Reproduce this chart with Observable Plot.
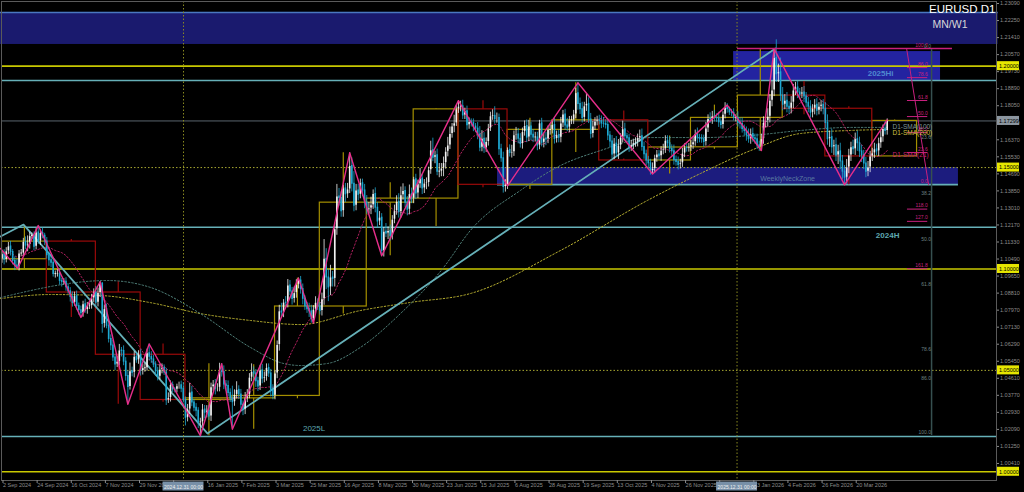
<!DOCTYPE html>
<html><head><meta charset="utf-8">
<script src="https://cdn.jsdelivr.net/npm/d3@7"></script>
<script src="https://cdn.jsdelivr.net/npm/@observablehq/plot@0.6"></script>
<style>html,body{margin:0;padding:0;background:#000;overflow:hidden}</style>
</head><body><div id="chart"></div>
<script>
// ---- daily EURUSD closes, bar index 0 = 2 Sep 2024 (weekdays) ----
const closes = [
1.1073,1.1045,1.1087,1.1111,1.1084,1.1040,1.1017,1.1010,1.1076,1.1076,1.1133,1.1115,1.1118,1.1162,1.1163,1.1110,1.1180,1.1136,1.1177,1.1164,1.1135,
1.1068,1.1043,1.1031,1.0975,1.0975,1.0978,1.0941,1.0936,1.0937,1.0910,1.0890,1.0862,1.0832,1.0866,1.0817,1.0797,1.0782,1.0826,1.0797,1.0815,1.0817,1.0855,1.0884,
1.0833,1.0881,1.0928,1.0729,1.0802,1.0720,1.0655,1.0623,1.0564,1.0529,1.0542,1.0598,1.0596,1.0543,1.0472,1.0418,1.0496,1.0488,1.0567,1.0550,1.0577,
1.0497,1.0511,1.0511,1.0585,1.0567,1.0554,1.0528,1.0495,1.0468,1.0503,1.0512,1.0490,1.0352,1.0364,1.0428,1.0406,1.0404,1.0422,1.0427,1.0410,1.0354,
1.0266,1.0307,1.0391,1.0341,1.0316,1.0301,1.0243,1.0244,1.0307,1.0291,1.0301,1.0273,1.0417,1.0430,1.0409,1.0414,1.0495,1.0492,1.0430,1.0423,1.0389,1.0362,
1.0343,1.0379,1.0404,1.0381,1.0330,1.0307,1.0361,1.0380,1.0464,1.0492,1.0484,1.0446,1.0421,1.0500,1.0459,1.0467,1.0512,1.0485,1.0399,1.0375,
1.0484,1.0625,1.0791,1.0785,1.0834,1.0833,1.0918,1.0889,1.0852,1.0881,1.0922,1.0943,1.0901,1.0853,1.0816,1.0801,1.0791,1.0753,1.0799,1.0833,1.0815,
1.0793,1.0851,1.1050,1.0958,1.0909,1.0958,1.0951,1.1196,1.1357,1.1350,1.1285,1.1397,1.1368,1.1392,1.1508,1.1420,1.1312,1.1387,1.1366,1.1423,1.1387,1.1327,
1.1290,1.1298,1.1314,1.1370,1.1302,1.1234,1.1253,1.1089,1.1184,1.1175,1.1187,1.1163,1.1243,1.1285,1.1331,1.1281,1.1364,1.1385,1.1327,1.1292,1.1369,1.1347,
1.1442,1.1372,1.1418,1.1446,1.1397,1.1421,1.1424,1.1487,1.1585,1.1549,1.1561,1.1480,1.1480,1.1495,1.1522,1.1578,1.1609,1.1665,1.1702,1.1718,1.1787,
1.1800,1.1802,1.1757,1.1778,1.1709,1.1725,1.1720,1.1702,1.1692,1.1662,1.1598,1.1642,1.1595,1.1626,1.1693,1.1753,1.1755,1.1739,1.1744,1.1590,1.1546,1.1404,1.1415,
1.1587,1.1572,1.1575,1.1660,1.1663,1.1642,1.1616,1.1675,1.1705,1.1648,1.1703,1.1662,1.1648,1.1649,1.1608,1.1718,1.1622,1.1643,1.1638,1.1685,1.1686,
1.1710,1.1641,1.1660,1.1647,1.1717,1.1762,1.1708,1.1697,1.1732,1.1733,1.1762,1.1867,1.1813,1.1787,1.1745,1.1802,1.1814,1.1737,1.1666,1.1703,1.1726,1.1733,
1.1730,1.1717,1.1716,1.1710,1.1658,1.1628,1.1564,1.1618,1.1570,1.1608,1.1647,1.1689,1.1654,1.1644,1.1600,1.1609,1.1620,1.1627,1.1645,1.1655,1.1601,1.1566,1.1535,
1.1521,1.1483,1.1493,1.1546,1.1564,1.1556,1.1583,1.1590,1.1632,1.1620,1.1592,1.1581,1.1537,1.1527,1.1513,1.1521,1.1569,1.1597,1.1596,1.1599,
1.1610,1.1625,1.1665,1.1644,1.1642,1.1640,1.1626,1.1693,1.1740,1.1738,1.1752,1.1745,1.1743,1.1723,1.1710,1.1760,1.1795,1.1788,1.1772,1.1770,1.1745,1.1745,
1.1720,1.1715,1.1690,1.1680,1.1660,1.1640,1.1665,1.1645,1.1640,1.1610,1.1600,1.1640,1.1720,1.1730,1.1750,1.1830,1.1880,1.2040,1.1960,1.1970,1.1855,
1.1810,1.1830,1.1800,1.1790,1.1820,1.1880,1.1895,1.1870,1.1860,1.1870,1.1850,1.1820,1.1800,1.1770,1.1790,1.1810,1.1780,1.1800,1.1810,1.1790,
1.1720,1.1640,1.1650,1.1600,1.1610,1.1560,1.1580,1.1530,1.1480,1.1450,1.1500,1.1560,1.1600,1.1590,1.1640,1.1620,1.1580,1.1560,1.1520,1.1480,1.1500,1.1555,
1.1570,1.1590,1.1580,1.1620,1.1650,1.1690,1.1680,1.1730];
const firstOpen = 1.1048;
// upper / lower wick lengths in pips
const wickUp = [
15,22,18,20,25,12,20,30,15,20,18,25,45,20,15,20,20,34,15,25,12,
20,15,25,20,15,18,20,12,15,20,15,18,25,20,25,15,20,15,25,20,15,20,18,
30,25,9,5,20,25,15,20,25,15,25,30,15,25,20,25,40,20,25,20,20,
25,20,25,20,45,25,20,15,20,25,20,15,20,25,20,15,10,10,15,20,30,
15,25,45,30,15,20,15,20,25,20,25,25,20,20,25,20,40,38,30,20,25,20,
60,25,40,20,25,20,30,25,20,40,25,20,20,25,30,25,20,20,20,30,
15,20,30,40,15,30,30,25,20,30,25,12,20,25,15,20,30,30,20,30,20,
20,30,95,50,40,60,30,30,60,40,30,15,25,30,65,40,60,30,30,20,20,30,
35,30,40,20,30,25,30,20,20,40,20,30,20,30,30,40,40,35,20,30,45,30,
10,25,20,50,20,20,25,15,45,60,20,30,40,25,30,20,40,35,15,40,20,
30,25,30,15,25,20,15,20,15,30,40,40,30,20,20,20,30,45,25,20,25,30,25,
10,25,35,20,35,30,25,20,25,30,30,20,25,25,25,15,25,25,30,20,25,
20,35,20,25,30,20,25,35,20,20,20,25,51,30,35,20,50,30,30,25,20,20,
25,25,30,20,25,20,30,25,35,30,20,40,30,15,20,25,20,20,20,30,35,25,20,
20,20,30,15,20,20,20,25,25,25,30,20,30,20,25,20,25,20,20,20,
25,20,20,30,20,20,20,30,20,30,25,30,20,30,20,15,25,20,10,15,20,15,
30,25,30,20,20,30,25,30,20,25,20,25,30,20,40,30,45,45,90,40,70,
40,30,40,25,30,30,25,30,20,25,30,20,25,30,20,25,30,20,20,25,
30,40,30,40,25,35,30,40,30,30,40,30,25,35,30,40,30,30,25,30,30,25,
25,30,25,25,30,20,35,10];
const wickDn = [
20,25,15,15,20,20,25,8,20,15,15,20,30,20,15,20,15,15,20,15,20,
20,30,25,15,20,15,20,25,15,20,15,25,20,15,20,25,21,20,15,20,15,15,20,
20,20,20,46,20,15,20,25,20,30,15,20,30,20,25,83,15,20,25,15,20,
25,20,20,15,20,20,15,25,20,15,20,15,25,15,20,15,15,15,15,20,15,
40,20,25,20,20,30,30,65,20,30,25,20,25,20,30,15,20,25,25,25,20,20,
133,20,20,25,20,30,25,20,20,20,25,30,25,20,25,20,20,20,30,20,
20,25,30,20,25,20,25,20,30,20,25,20,25,30,20,20,30,20,25,20,20,
20,25,30,60,70,40,40,40,30,40,30,30,40,20,20,40,30,25,30,20,30,30,
20,20,30,20,25,30,20,24,30,20,30,25,20,20,20,30,30,25,25,30,25,25,
25,30,25,20,30,25,30,20,20,20,30,20,30,25,40,30,25,20,20,30,15,
20,25,20,20,25,20,20,25,20,25,20,20,25,20,20,15,20,25,20,30,20,30,25,
23,20,25,20,25,25,20,25,20,25,20,30,25,20,25,20,20,25,30,20,25,
20,25,20,25,25,20,25,20,25,20,20,20,30,25,25,20,25,20,25,20,20,20,
20,25,20,20,25,30,20,25,20,30,20,25,20,20,25,20,20,20,25,20,20,25,25,
25,20,15,20,20,20,25,20,20,25,20,25,25,20,25,20,20,20,20,20,
20,20,20,25,20,20,25,20,20,20,25,20,20,25,20,20,20,20,15,20,15,20,
20,25,20,25,30,20,25,20,25,20,20,16,25,25,30,30,30,30,40,40,30,
30,25,30,30,25,30,25,30,25,20,30,25,30,25,25,30,25,20,25,30,
30,30,40,30,40,30,45,40,40,35,30,30,30,25,30,40,30,35,30,30,25,25,
25,25,20,25,25,25,20,20];

// ---- monthly candles (MN boxes) ----
const monthStart = [0,21,44,65,86,108,128,149,171,193,214,237,258,280,303,323,345,366,386,408];
const monthEnd   = [20,43,64,85,107,127,148,170,192,213,236,257,279,302,322,344,365,385,407,428];
const mOpen  = [1.1048,1.1135,1.0884,1.0577,1.0354,1.0362,1.0374,1.0815,1.1327,1.1347,1.1787,1.1415,1.1686,1.1733,1.1535,1.1600,1.1745,1.1855,1.1790,1.1555];
const mHigh  = [1.1214,1.1145,1.0937,1.0630,1.0533,1.0528,1.0955,1.1573,1.1425,1.1790,1.1830,1.1743,1.1918,1.1779,1.1656,1.1808,1.2085,1.1925,1.1800,1.1735];
const mLow   = [1.1002,1.0761,1.0333,1.0343,1.0178,1.0210,1.0360,1.0778,1.1065,1.1210,1.1400,1.1392,1.1574,1.1542,1.1468,1.1590,1.1580,1.1760,1.1415,1.1550];
const mClose = [1.1135,1.0884,1.0577,1.0354,1.0362,1.0374,1.0815,1.1327,1.1347,1.1787,1.1415,1.1686,1.1733,1.1535,1.1599,1.1745,1.1855,1.1790,1.1555,1.1730];

// ---- horizontal levels ----
const hLevels = [1.2000, 1.1929, 1.17299, 1.1500, 1.1206, 1.1000, 1.0500, 1.0174, 1.0000];
const hKinds  = ["round","swing","last","half","swing","round","half","swing","round"];
// ---- zones ----
const zoneNames = ["MonthlyZone","2025HiZone","WeeklyNeckZone"];
const zoneStart = [-1, 343, 232.3];
const zoneEnd   = [467, 440, 448.4];
const zoneLow   = [1.2107, 1.1929, 1.1416];
const zoneHigh  = [1.2265, 1.2072, 1.1500];
// ---- trend lines / zigzag ----
const trendIdx   = [-0.7, 10.1, 96.3, 362.6];
const trendPrice = [1.1160, 1.1219, 1.0189, 1.2087];
const zzIdx   = [-0.7,7.3,17,37,46,59,69,93,103,108,139,146,163,178,214,237,270,305,340,356,362,395,415];
const zzPrice = [1.1101,1.1002,1.1214,1.0761,1.0937,1.0333,1.0630,1.0178,1.0533,1.0210,1.0955,1.0733,1.1573,1.1065,1.1830,1.1410,1.1918,1.1468,1.1808,1.1584,1.2085,1.1415,1.1735];
// ---- moving averages ----
const s200Idx   = [-0.7,22.7,46.2,69.6,93,116.5,140,168,191.5,219.6,261.8,302.6,327.5,351,374.4,397.8,415];
const s200Price = [1.0854,1.0874,1.0869,1.0834,1.0780,1.0746,1.0726,1.0795,1.0835,1.0879,1.1091,1.1338,1.1471,1.1584,1.1668,1.1683,1.1688];
const s100Idx   = [-0.7,49.5,69.6,93,116.5,132,140,152.6,168,186.8,207,219.6,243,261.8,280.6,304,327.5,351,374.4,397.8,415];
const s100Price = [1.0859,1.0943,1.0909,1.0780,1.0613,1.0534,1.0524,1.0534,1.0613,1.0780,1.1007,1.1190,1.1387,1.1510,1.1584,1.1648,1.1648,1.1658,1.1683,1.1698,1.1698];
// ---- fibonacci ----
const fibMagLevels = [100, 86, 78.6, 61.8, 50, 38.2, 23.6, 0, 118, 127, 161.8];
const fibMagHigh = 1.2087, fibMagLow = 1.1416;
const fibGrayLevels = [0, 23.6, 38.2, 50, 61.8, 78.6, 86, 100];
const fibGrayTop = 1.2082, fibGrayBottom = 1.0179;
// ---- text ----
const labelTexts = ["2025Hi","2024H","2025L","WeeklyNeckZone"];
const labelIdx   = [411.9, 415.2, 146.3, 368.3];
const labelPrice = [1.1964, 1.1165, 1.0213, 1.1446];
const smaNames = ["D1-SMA(100)","D1-SMA(200)","D1-SMA(21)"];
const smaLabelPrice = [1.1702, 1.1672, 1.1562];
// ---- axes ----
const xTickIdx = [0,16,32,48,64,80,96,112,128,144,160,176,192,208,224,240,256,272,288,304,320,336,352,368,384,400];
const xTickLabels = ["2 Sep 2024","24 Sep 2024","16 Oct 2024","7 Nov 2024","29 Nov 2024","23 Dec 2024","16 Jan 2025","7 Feb 2025","3 Mar 2025","25 Mar 2025","16 Apr 2025","8 May 2025","30 May 2025","23 Jun 2025","15 Jul 2025","6 Aug 2025","28 Aug 2025","19 Sep 2025","13 Oct 2025","4 Nov 2025","26 Nov 2025","18 Dec 2025","13 Jan 2026","4 Feb 2026","26 Feb 2026","20 Mar 2026"];
const yTicks = [1.2309,1.2225,1.2141,1.2057,1.1973,1.1889,1.1805,1.1721,1.1637,1.1553,1.1469,1.1385,1.1301,1.1217,1.1133,1.1049,1.0965,1.0881,1.0797,1.0713,1.0629,1.0545,1.0461,1.0377,1.0293,1.0209,1.0125,1.0041];
const tagPrice = [1.2000, 1.17299, 1.1500, 1.1000, 1.0500, 1.0000];
const tagKind  = ["round","last","round","round","round","round"];
const sepIdx = [85.1, 344.6];
const sepLabel = ["2024.12.31 00:00","2025.12.31 00:00"];

// ---------- build tables ----------
const candles = closes.map((c, i) => {
  const o = i === 0 ? firstOpen : closes[i - 1];
  return {i, o, c, h: Math.max(o, c) + wickUp[i] / 1e4, l: Math.min(o, c) - wickDn[i] / 1e4, up: c >= o};
});
const months = monthStart.map((s, k) => ({s, e: monthEnd[k], o: mOpen[k], h: mHigh[k], l: mLow[k], c: mClose[k], up: mClose[k] >= mOpen[k]}));
const levels = hLevels.map((p, k) => ({p, kind: hKinds[k]}));
const zones = zoneNames.map((n, k) => ({n, a: zoneStart[k], b: zoneEnd[k], lo: zoneLow[k], hi: zoneHigh[k]}));
const trend = trendIdx.map((x, k) => ({x, y: trendPrice[k]}));
const zz = zzIdx.map((x, k) => ({x, y: zzPrice[k]}));
const sma200 = s200Idx.map((x, k) => ({x, y: s200Price[k]}));
const sma100 = s100Idx.map((x, k) => ({x, y: s100Price[k]}));
const fr = fibMagHigh - fibMagLow;
const fibMag = fibMagLevels.map(lv => ({lv, p: lv <= 100 ? fibMagLow + lv / 100 * fr : fibMagLow - (lv - 100) / 100 * fr}));
const fibGray = fibGrayLevels.map(lv => ({lv, p: fibGrayTop - lv / 100 * (fibGrayTop - fibGrayBottom)}));
const labels = labelTexts.map((t, k) => ({t, x: labelIdx[k], y: labelPrice[k]}));
const smaLabels = smaNames.map((t, k) => ({t, y: smaLabelPrice[k]}));
const tags = tagPrice.map((p, k) => ({p, kind: tagKind[k], t: p.toFixed(5)}));
const seps = sepIdx.map((i, k) => ({i, t: sepLabel[k]}));
// tick labels hidden behind the separator date tags are not drawn
const hiddenTicks = new Set(xTickIdx.filter(t => sepIdx.some(s => t < s && s - t < 10)));

const xMin = -0.234, xMax = 466.24, yMin = 0.99570, yMax = 1.23189;
const BULL = "#f2f2f2", BEAR = "#1ea8d2", CYAN = "#66b0b8", YEL = "#c8c800";
const levelStyle = {
  round: {stroke: YEL, strokeWidth: 1.6},
  swing: {stroke: CYAN, strokeWidth: 1.6},
  last: {stroke: "#5a646e", strokeWidth: 1},
  half: {stroke: "#a8a830", strokeWidth: 1, strokeDasharray: "1.5,2"}
};
const zoneFill = {"MonthlyZone": "#1a1a6e", "2025HiZone": "#2323a0", "WeeklyNeckZone": "#1c1c7e"};
const labelStyle = {
  "2025Hi": {fill: "#4f88d0", fontWeight: "bold", fontSize: 8},
  "2024H": {fill: "#5fa8b0", fontWeight: "bold", fontSize: 8},
  "2025L": {fill: "#5fa8b0", fontWeight: "normal", fontSize: 8},
  "WeeklyNeckZone": {fill: "#5a7aa0", fontWeight: "normal", fontSize: 7}
};
const smaColor = {"D1-SMA(100)": "#7f9696", "D1-SMA(200)": "#d0c040", "D1-SMA(21)": "#c82070"};
const MAG = "#c8207e";

const marks = [];
for (const z of zones) {
  marks.push(Plot.rect([z], {x1: "a", x2: "b", y1: "lo", y2: "hi", fill: zoneFill[z.n]}));
}
marks.push(Plot.ruleY(zones.filter(z => z.n === "MonthlyZone"), {y: "hi", x1: "a", x2: "b", stroke: "#4a78c0", strokeWidth: 1.5}));
marks.push(Plot.ruleY(zones.filter(z => z.n === "WeeklyNeckZone"), {y: "lo", x1: "a", x2: "b", stroke: CYAN, strokeWidth: 1.6}));
for (const k of Object.keys(levelStyle)) {
  marks.push(Plot.ruleY(levels.filter(d => d.kind === k), {y: "p", x1: xMin, x2: xMax, ...levelStyle[k]}));
}
marks.push(Plot.ruleX(seps, {x: "i", stroke: "#8a8a20", strokeWidth: 1, strokeDasharray: "1.5,2"}));
for (const up of [true, false]) {
  const col = up ? "#a48f00" : "#9b0a0a";
  const ms = months.filter(m => m.up === up);
  marks.push(Plot.rect(ms, {x1: "s", x2: d => d.e + 1, y1: "o", y2: "c", fill: "none", stroke: col, strokeWidth: 1.2}));
  marks.push(Plot.ruleX(ms, {x: d => (d.s + d.e + 1) / 2, y1: "h", y2: d => Math.max(d.o, d.c), stroke: col, strokeWidth: 1.2}));
  marks.push(Plot.ruleX(ms, {x: d => (d.s + d.e + 1) / 2, y1: "l", y2: d => Math.min(d.o, d.c), stroke: col, strokeWidth: 1.2}));
}
marks.push(Plot.line(sma200, {x: "x", y: "y", stroke: "#b8b030", strokeWidth: 1, strokeDasharray: "1.5,2", curve: "monotone-x"}));
marks.push(Plot.line(sma100, {x: "x", y: "y", stroke: "#4f7f78", strokeWidth: 1, strokeDasharray: "1.5,2", curve: "monotone-x"}));
marks.push(Plot.lineY(candles, Plot.windowY({k: 21, anchor: "end"}, {x: "i", y: "c", stroke: "#b0205e", strokeWidth: 1, strokeDasharray: "1.5,2"})));
marks.push(Plot.line(trend, {x: "x", y: "y", stroke: CYAN, strokeWidth: 1.8}));
for (const up of [true, false]) {
  const col = up ? BULL : BEAR;
  const cs = candles.filter(d => d.up === up);
  marks.push(Plot.ruleX(cs, {x: "i", y1: "l", y2: "h", stroke: col, strokeWidth: 0.8}));
  marks.push(Plot.ruleX(cs, {x: "i", y1: "o", y2: "c", stroke: col, strokeWidth: 1.6, insetTop: -0.5, insetBottom: -0.5}));
}
marks.push(Plot.line(zz, {x: "x", y: "y", stroke: "#e62e8a", strokeWidth: 1.4}));
marks.push(Plot.ruleY(fibMag.filter(d => d.lv === 100), {y: "p", x1: 344.8, x2: 445.6, stroke: MAG, strokeWidth: 1.5}));
marks.push(Plot.ruleY(fibMag.filter(d => d.lv !== 100 && d.lv !== 0), {y: "p", x1: 424.5, x2: 434, stroke: MAG, strokeWidth: 1}));
marks.push(Plot.line([{x: 424.1, y: fibMagHigh}, {x: 434.4, y: fibMagLow}], {x: "x", y: "y", stroke: MAG, strokeWidth: 1}));
marks.push(Plot.text(fibMag, {x: 434, y: "p", text: d => d.lv.toFixed(1), dy: -3.5, textAnchor: "end", fill: MAG, fontSize: 5}));
marks.push(Plot.ruleX([435.8], {y1: fibGrayTop, y2: fibGrayBottom, stroke: "#365050", strokeWidth: 1.5}));
marks.push(Plot.text(fibGray, {x: 435.5, y: "p", text: d => d.lv.toFixed(1), dy: -3.5, textAnchor: "end", fill: "#6e8080", fontSize: 5}));
for (const l of labels) {
  marks.push(Plot.text([l], {x: "x", y: "y", text: "t", ...labelStyle[l.t]}));
}
for (const s of smaLabels) {
  marks.push(Plot.text([s], {x: 417.5, y: "y", text: "t", textAnchor: "start", fill: smaColor[s.t], fontSize: 6.5}));
}
marks.push(Plot.frame({stroke: "#5a5a5a"}));
marks.push(Plot.axisY({anchor: "right", ticks: yTicks, tickFormat: d => d.toFixed(5), tickSize: 2, tickPadding: 1.5, fontSize: 5.5, color: "#8c8c8c"}));
marks.push(Plot.axisX({anchor: "bottom", ticks: xTickIdx, tickFormat: d => hiddenTicks.has(d) ? "" : xTickLabels[xTickIdx.indexOf(d)], tickSize: 3, tickPadding: 0, textAnchor: "start", dx: 1, fontSize: 5.5, color: "#8c8c8c"}));
for (const k of ["round", "last"]) {
  const ts = tags.filter(d => d.kind === k);
  marks.push(Plot.rect(ts, {x1: xMax, x2: xMax, y1: "p", y2: "p", insetLeft: 1, insetRight: -23, insetTop: -4.5, insetBottom: -4.5, fill: k === "round" ? "#e6e600" : "#8c96a0"}));
  marks.push(Plot.text(ts, {x: xMax, y: "p", text: "t", dx: 2.5, textAnchor: "start", fill: "#000", fontSize: 5.5}));
}
marks.push(Plot.rect(seps, {x1: d => d.i - 9.6, x2: d => d.i + 9.6, y1: yMin, y2: yMin, insetTop: 1.5, insetBottom: -10.5, fill: "#7890a8"}));
marks.push(Plot.text(seps, {x: "i", y: yMin, text: "t", dy: 6.5, fill: "#f0f0f0", fontSize: 5}));
marks.push(Plot.text(["EURUSD D1"], {frameAnchor: "top-right", dx: -1, dy: 3, fill: "#ffffff", fontSize: 11.5, lineAnchor: "top"}));
marks.push(Plot.text(["MN/W1"], {frameAnchor: "top-right", dx: -64, dy: 19, textAnchor: "start", fill: "#d8d8d8", fontSize: 10.5, lineAnchor: "top"}));

const chart = Plot.plot({
  width: 1024, height: 492,
  marginLeft: 1, marginTop: 1, marginRight: 28, marginBottom: 12,
  style: {background: "#000", color: "#8c8c8c", fontFamily: "'Liberation Sans', 'DejaVu Sans', sans-serif"},
  x: {domain: [xMin, xMax]},
  y: {domain: [yMin, yMax]},
  marks
});
document.getElementById("chart").append(chart);
</script></body></html>
